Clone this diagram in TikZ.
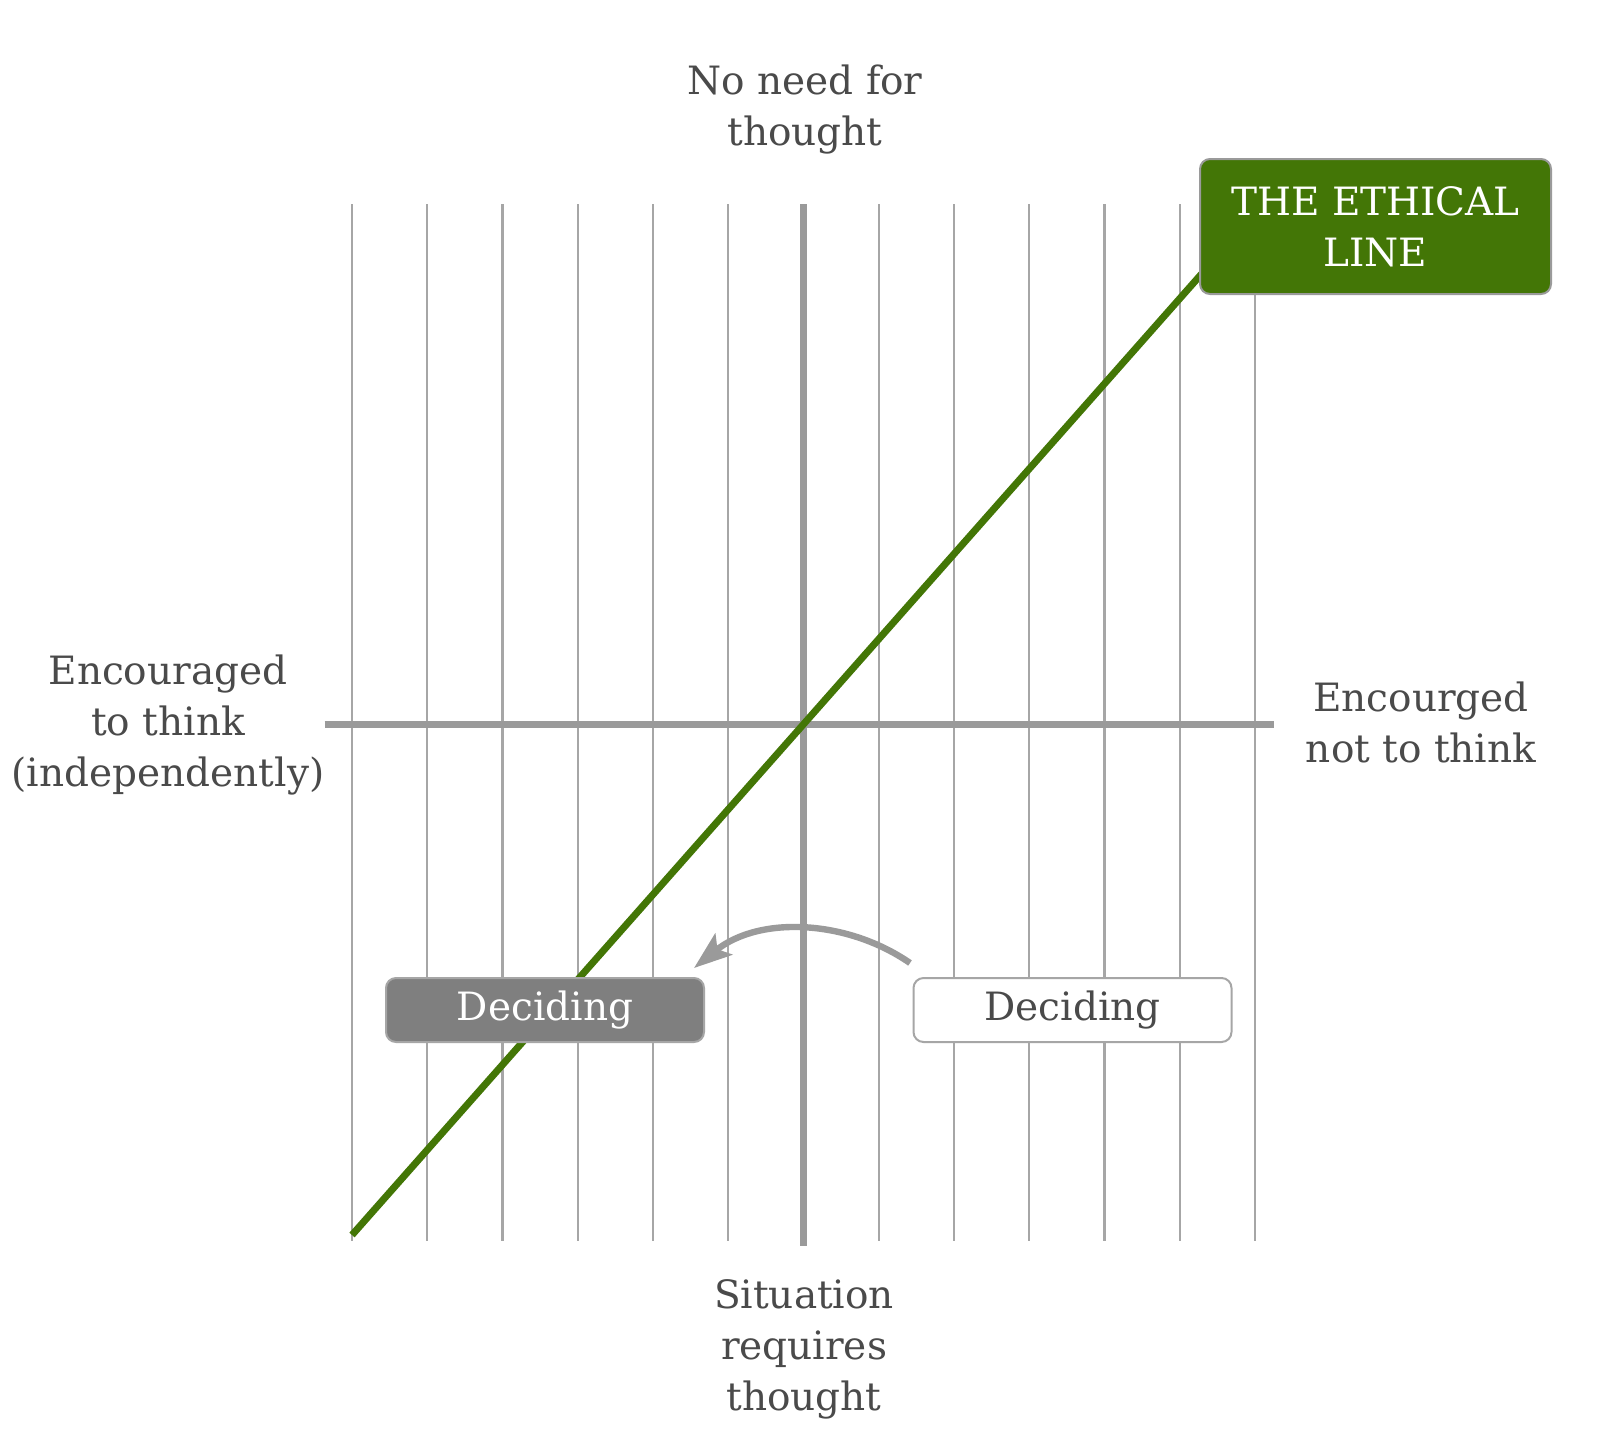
\documentclass[tikz,border=0pt]{standalone}
\usepackage{fontspec}
\setmainfont{DejaVu Serif}
\usetikzlibrary{arrows.meta}
\definecolor{txt}{HTML}{4A4A4A}
\definecolor{grid}{HTML}{A6A6A6}
\definecolor{axis}{HTML}{9A9A9A}
\definecolor{ethic}{HTML}{437606}
\definecolor{boxgray}{HTML}{7F7F7F}
\begin{document}
\begin{tikzpicture}[x=0.5pt,y=-0.5pt,
  gridline/.style={draw=grid,line width=1.15pt},
  axisline/.style={draw=axis,line width=3.4pt},
  lbl/.style={text=txt,font=\fontsize{19.5pt}{25.5pt}\selectfont,align=center,inner sep=0pt},
  boxbase/.style={rounded corners=5pt,line width=1pt,inner sep=0pt,align=center,
     font=\fontsize{19.5pt}{25.5pt}\selectfont},
  ethbox/.style={boxbase,draw=axis,fill=ethic,text=white,minimum width=175.5pt,minimum height=67.5pt},
  graybox/.style={boxbase,draw=grid,fill=boxgray,text=white,minimum width=159pt,minimum height=32pt},
  whitebox/.style={boxbase,draw=grid,fill=white,text=txt,minimum width=159pt,minimum height=32pt},
  ethline/.style={draw=ethic,line width=3.5pt},
  movearrow/.style={draw=axis,line width=3.2pt,-{Stealth[length=19pt,width=13.5pt,inset=4pt]}}
]
\useasboundingbox[fill=white] (0,0) rectangle (1600,1446);
% grid
\foreach \i in {0,...,12}{
  \ifnum\i=6\else
    \draw[gridline] ({352+75.25*\i},204) -- ({352+75.25*\i},1241);
  \fi
}
% axes
\draw[axisline,line width=3.8pt] (803.5,204) -- (803.5,1246);
\draw[axisline] (324.5,724.5) -- (1273.5,724.5);
% ethical line
\coordinate (ls) at (352,1235);
\coordinate (le) at (1205,270);
\draw[ethline] (ls) -- (le);
% arrow
\coordinate (as) at (910,963);
\coordinate (ae) at (694,968);
\draw[movearrow] (as) .. controls (848,920) and (760,915) .. (ae);
% boxes
\node[ethbox] (eth) at (1375.5,226.5) {THE ETHICAL\\LINE};
\node[graybox] (d1) at (545,1010) {Deciding};
\node[whitebox] (d2) at (1072.5,1010) {Deciding};
% labels
\node[lbl] (top) at (805,110) {No need for\\thought};
\node[lbl] (left) at (168,725) {Encouraged\\to think\\(independently)};
\node[lbl] (right) at (1421,722) {Encourged\\not to think};
\node[lbl] (bottom) at (804,1349) {Situation\\requires\\thought};
\end{tikzpicture}
\end{document}
